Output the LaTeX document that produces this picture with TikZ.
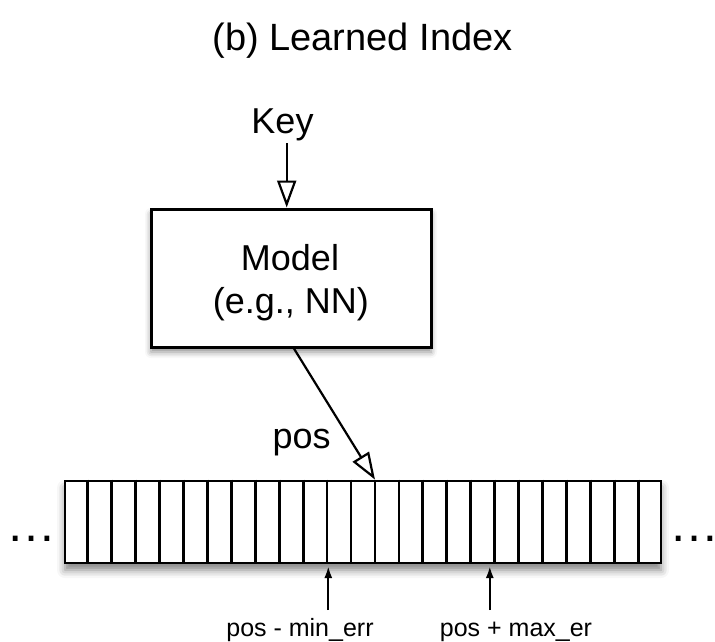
\documentclass[tikz,border=0pt]{standalone}
\usepackage{fontspec}
\setmainfont{Liberation Sans}
\usetikzlibrary{arrows.meta,shadows.blur,calc}
\begin{document}
\begin{tikzpicture}[x=1pt,y=-1pt,
  lbl/.style={inner sep=0pt, anchor=base, font=\fontsize{36}{43}\selectfont},
  titlelbl/.style={inner sep=0pt, anchor=base, font=\fontsize{38}{46}\selectfont},
  smalllbl/.style={inner sep=0pt, anchor=base, font=\fontsize{25}{30}\selectfont},
  dotslbl/.style={inner sep=0pt, anchor=center, font=\fontsize{50}{60}\selectfont},
  modelbox/.style={draw=black, line width=3pt, fill=white, minimum width=280pt, minimum height=138pt,
    blur shadow={shadow xshift=0pt, shadow yshift=-5pt, shadow blur radius=6pt, shadow opacity=45}},
  arraybox/.style={draw=black, line width=2.8pt, fill=white, minimum width=596pt, minimum height=82pt,
    blur shadow={shadow xshift=0pt, shadow yshift=-7pt, shadow blur radius=8pt, shadow opacity=50}},
  cellline/.style={line width=2.8pt},
  openarr/.style={line width=2.2pt, -{Triangle[open, length=27pt, width=19pt]}},
  smallarr/.style={line width=2.2pt, -{Latex[length=12pt, width=8pt]}}
]
\useasboundingbox (0,0) rectangle (715,642);

% title
\node[titlelbl] (title) at (362.5,51) {(b) Learned Index};

% key and model
\node[lbl] (key) at (282.5,133.3) {Key};
\coordinate (keystart) at (286.7,143);
\node[modelbox] (model) at (291,278) {};
\node[lbl] (modelA) at (290,270) {Model};
\node[lbl] (modelB) at (290.8,313) {(e.g., NN)};
\draw[openarr] (keystart) -- (keystart |- model.north);

% array
\node[arraybox] (arr) at (363,522) {};
\foreach \k in {1,...,24}
  \draw[cellline] ($(arr.north west)!\k/25!(arr.north east)$) -- ($(arr.south west)!\k/25!(arr.south east)$);

% pos arrow
\coordinate (posstart) at (293,347);
\coordinate (postip) at ($(arr.north west)!13/25!(arr.north east)$);
\draw[openarr] (posstart) -- (postip);
\node[lbl] (poslbl) at (301.7,448) {pos};

% dots
\node[dotslbl] (ldots) at (31.7,539.3) {\char"2026};
\node[dotslbl] (rdots) at (694,539.3) {\char"2026};

% error bounds
\coordinate (minbot) at (328.3,610);
\coordinate (mintip) at (328.3,566);
\coordinate (maxbot) at (489.8,610);
\coordinate (maxtip) at (489.8,566);
\draw[smallarr] (minbot) -- (mintip);
\draw[smallarr] (maxbot) -- (maxtip);
\node[smalllbl] (minlbl) at (300,636.7) {pos - min\_err};
\node[smalllbl] (maxlbl) at (516,636.7) {pos + max\_er};
\end{tikzpicture}
\end{document}
